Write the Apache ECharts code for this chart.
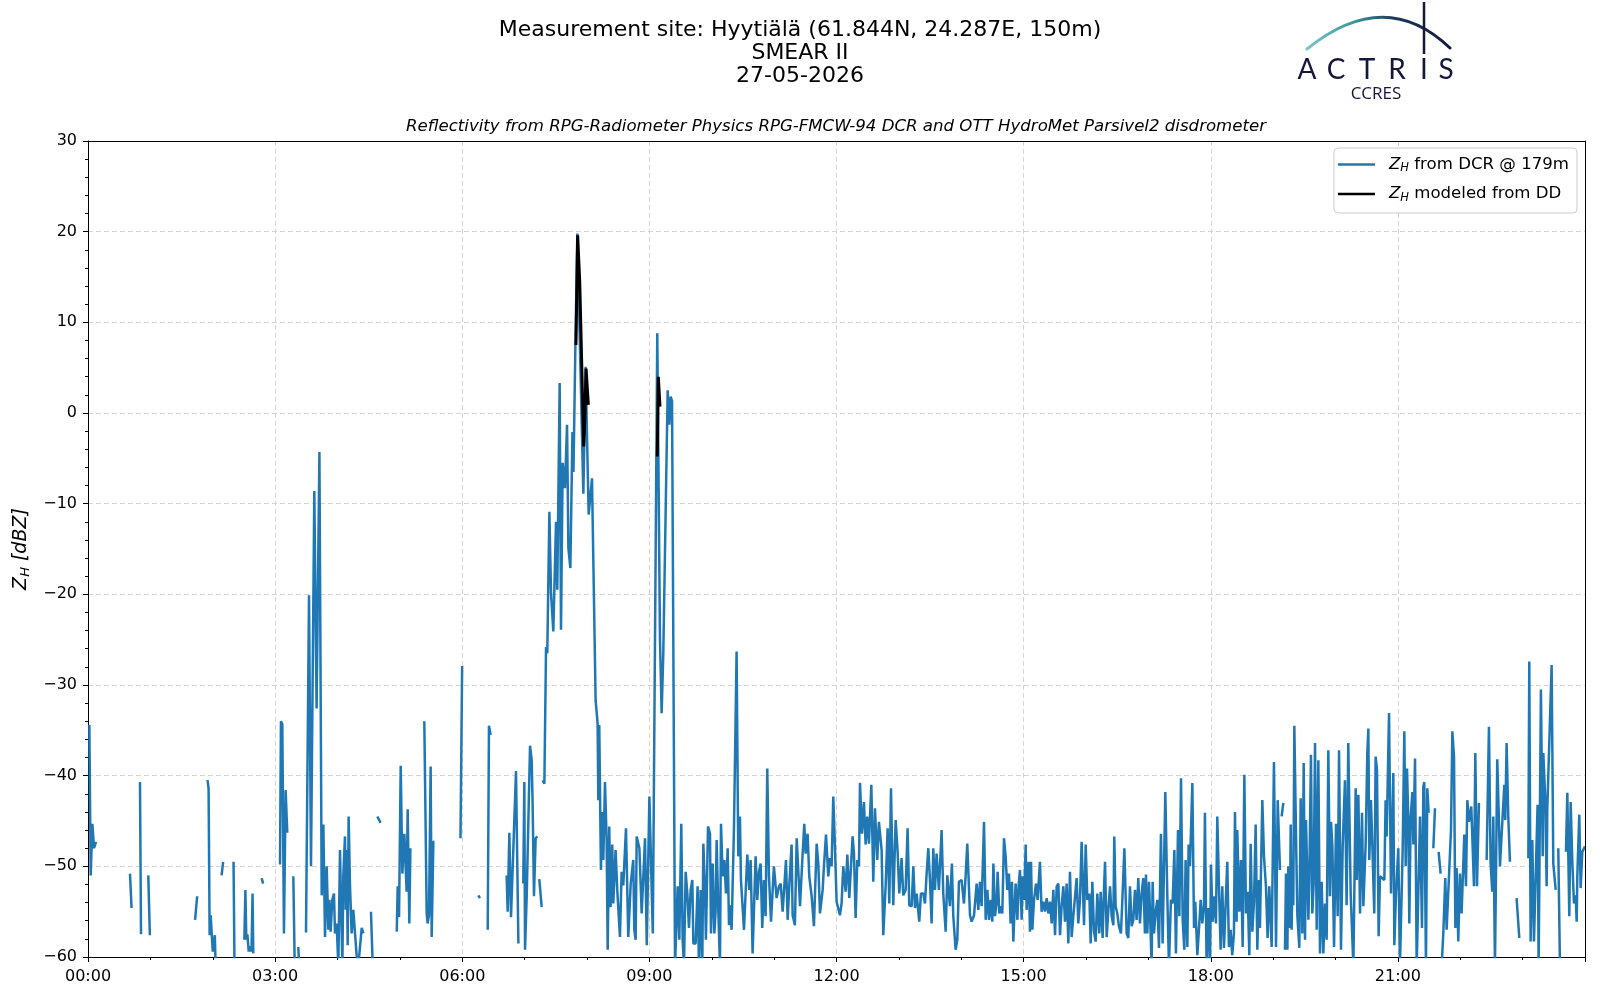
<!DOCTYPE html>
<html><head><meta charset="utf-8">
<script src="https://cdn.jsdelivr.net/npm/echarts@6/dist/echarts.min.js"></script>
<style>html,body{margin:0;padding:0;background:#fff}#c{width:1600px;height:1000px}</style>
</head><body><div id="c"></div>
<script>
// time in minutes after 00:00, reflectivity in dBZ; null = no data
const dcrNight = [
[1.3,-34.4],[2.6,-51.0],[4.2,-45.3],[5.8,-48.0],[7.7,-47.3],[10,null],
[40.4,-50.8],[41.9,-54.6],[45,null],
[50.0,-40.7],[51.0,-57.5],[54,null],
[58.0,-51.0],[59.5,-57.6],[62,null],
[103.0,-55.9],[105.0,-53.3],[108,null],
[115,-40.5],[116,-41.4],[117,-57.6],[118,-55.4],[120,-59.4],[122,-57.6],[123,-62],[125,null],
[128.5,-51.0],[130,-49.5],[134,null],
[140,-49.5],[141,-62],[145,null],
[150.4,-58.1],[151.4,-52.6],[152.3,-58.1],[153.3,-57.5],[154.6,-59.4],[155.6,-58.8],[157.3,-59.4],[158.3,-53.0],[159.0,-59.6],[162,null],
[167,-51.3],[168.5,-51.9],[172,null],
[184.7,-49.8],[185.6,-34.0],[186.9,-34.3],[188.5,-57.4],[190.1,-41.6],[191.7,-46.3],[194,null],
[197.5,-51.1],[199,-62],[200.5,null],
[202.3,-58.9],[203.5,-62],[205,null],
[209.7,-57.3],[212.6,-20.1],[214.5,-50.0],[217.7,-8.6],[219.9,-32.6],[222.6,-4.3],[224.8,-53.2],[226.4,-45.4],[228.0,-57.8],[229.6,-50.0],[231.2,-57.0],[232.2,-53.7],[233.4,-57.2],[235.0,-53.7],[236.6,-53.0],[237.6,-57.4],[239.2,-56.3],[240.8,-61],[242.4,-48.2],[243.4,-48.0],[244.7,-61],[245.6,-51.0],[247.2,-46.7],[247.9,-54.8],[248.8,-48.2],[249.8,-58.7],[250.7,-44.5],[252.0,-52.0],[253.6,-57.4],[255.2,-54.8],[256.9,-54.8],[258.4,-59.8],[260.0,-61],[263.3,-56.8],[264.9,-57.4],[268,null],
[272.2,-55.0],[273.9,-61],[276,null],
[278.3,-44.5],[281.5,-45.2],[290,null],
[297.0,-57.2],[297.9,-52.2],[299.2,-55.6],[300.8,-38.9],[302.4,-50.8],[304.3,-46.4],[305.6,-46.2],[306.5,-52.8],[307.5,-43.7],[308.5,-43.8],[309.1,-56.3],[310.1,-48.0],[312,null],
[323.5,-34.0],[325.8,-55.2],[326.7,-56.3],[328.0,-55.4],[329.6,-39.0],[330.6,-57.8],[332.2,-47.3],[333.2,-47.3],[335,null],
[358.3,-46.9],[359.9,-27.9],[362,null],
[375.5,-53.2],[377.0,-53.5],[380,null],
[384.5,-57.0],[385.7,-34.5],[387.3,-35.5],[390,null],
[402.7,-51.0],[403.7,-55.0],[405.3,-46.3],[406.3,-46.4],[406.9,-55.6],[411.7,-39.5],[414.0,-58.5],[416,null],
[418.7,-51.9],[419.7,-40.7],[420.4,-59.2],[422.0,-53.3],[425.2,-36.7],[426.8,-38.3],[427.7,-43.2],[429.0,-53.3],[430.6,-46.9],[432.2,-46.7],[433.2,null],
[434.1,-51.4],[436.4,-54.5],[437,null]
];
const dcrRain = [
[437.4,-40.5],[439.0,-40.9],[440.6,-25.8],[441.8,-26.5],[443.8,-10.9],[445.4,-19.9],[447.6,-24.1],[450.2,-12.0],[451.4,-19.5],[453.0,-19.3],[453.7,3.3],[455.0,-23.9],[456.6,-5.5],[458.8,-8.3],[460.8,-1.3],[462.1,-14.9],[464.0,-17.1],[466.0,-2.1],[467.0,-6.5],[468.8,7.3],[470.7,19.8],[471.4,19.6],[476.5,-8.9],[478.7,5.1],[479.7,-0.8],[481.6,-11.2],[484.8,-7.2],[488.3,-31.7],[490.2,-34.2],[490.9,-42.7],[491.8,-34.4],[493.4,-50.4],[494.7,-44.0],[495.7,-49.3],[497.3,-40.7],[498.9,-47.1],[499.9,-59.2],[501.4,-45.6],[502.7,-54.5],[504.3,-47.6],[505.3,-54.1],[507.5,-48.2],[509.1,-52.6],[511.7,-57.8],[513.3,-50.6],[514.9,-52.1],[517.5,-45.8],[519.7,-57.8],[522.0,-52.0],[524.5,-49.3],[525.5,-57.0],[526.8,-58.1],[527.8,-46.7],[530.4,-48.0],[532.6,-55.2],[535.8,-46.9],[537.5,-58.7],[540.0,-42.3],[543.3,-57.4],[547.6,8.8],[550.2,-25.0],[551.8,-33.1],[553.4,-26.5],[557.6,2.5],[559.2,-1.3],[560.5,1.8],[561.8,1.3],[564.7,-61],
[567.2,-52.2],[568.8,-58.1],[570.7,-45.3],[572.0,-58.1],[573.3,-61],[574.9,-50.6],[576.5,-53.0],[578.1,-56.8],[579.7,-52.6],[581.3,-51.5],[582.3,-58.5],[584.5,-58.5],[586.4,-52.2],[587.7,-61],[589.3,-52.6],[590.9,-61],[591.9,-47.5],[593.5,-52.6],[594.4,-58.1],[596.4,-45.6],[598.3,-46.4],[599.3,-57.4]
];
const dcrDay = [
[600.9,-49.7],[602.5,-57.4],[603.7,-55.0],[604.7,-47.1],[606.3,-54.8],[607.9,-61],[608.9,-45.3],[610.5,-51.1],[612.1,-49.3],[613.7,-53.0],[615.3,-48.0],[616.6,-56.5],[617.5,-54.3],[619.1,-57.0],[621.4,-45.6],[623.9,-26.3],[625.5,-48.9],[627.1,-44.5],[628.1,-51.5],[631.0,-57.0],[634.2,-48.7],[636.1,-52.6],[637.4,-49.3],[639.3,-59.6],[642.2,-48.9],[643.8,-53.7],[645.4,-50.6],[647.0,-49.7],[648.6,-56.8],[650.2,-51.5],[651.8,-55.5],[653.4,-39.2],[655.0,-51.0],[657.0,-56.1],[659.8,-50.0],[662.4,-53.5],[664.7,-52.2],[666.3,-51.9],[668.2,-55.0],[669.8,-52.2],[671.4,-49.3],[673.0,-55.9],[674.6,-52.1],[676.8,-47.6],[677.8,-55.4],[680.0,-56.5],[681.7,-46.9],[683.3,-50.6],[684.9,-54.4],[687.1,-49.3],[689.0,-45.3],[690.3,-48.6],[692.2,-46.4],[693.8,-51.1],[696.1,-53.3],[698.3,-56.6],[700.9,-47.5],[702.5,-49.7],[704.1,-55.2],[706.7,-52.6],[707.9,-50.0],[709.9,-46.5],[712.1,-51.1],[713.7,-49.1],[715.3,-50.0],[716.9,-42.3],[718.5,-47.8],[720.1,-53.9],[721.7,-53.9],[723.3,-55.4],[724.9,-54.1],[726.5,-50.0],[728.8,-52.8],[730.4,-48.7],[732.3,-53.5],[733.6,-53.7],[735.5,-46.7],[736.8,-48.6],[738.4,-55.7],[740.0,-49.3],[741.6,-50.0],[742.6,-40.8],[744.5,-46.4],[746.4,-42.9],[748.0,-47.6],[749.6,-44.5],[751.2,-47.5],[753.5,-41.0],[755.4,-51.7],[757.0,-43.6],[759.2,-49.3],[760.8,-45.1],[763.4,-48.2],[765.0,-57.6],[767.3,-52.1],[769.2,-45.8],[770.8,-54.1],[772.4,-41.4],[774.6,-54.3],[776.9,-44.9],[778.8,-48.4],[780.4,-53.0],[782.6,-49.1],[784.2,-53.2],[786.5,-52.6],[788.4,-45.8],[790.0,-54.3],[792.3,-54.4],[793.9,-50.0],[795.5,-54.6],[797.1,-53.0],[799.6,-56.1],[801.2,-53.0],[803.5,-53.0],[805.1,-54.1],[806.7,-50.8],[808.3,-48.0],[809.9,-51.5],[811.5,-56.3],[813.1,-48.0],[814.7,-52.6],[816.3,-48.6],[818.5,-52.6],[821.1,-46.0],[822.7,-53.0],[825.0,-57.2],[826.6,-51.0],[829.1,-54.4],[831.0,-49.7],[832.3,-55.4],[834.6,-59.2],[836.2,-58.1],[837.8,-51.7],[840.3,-51.5],[842.6,-54.1],[844.2,-51.1],[845.8,-47.5],[848.4,-55.4],
[850.0,-56.1],[852.3,-55.4],[854.8,-51.9],[856.4,-54.8],[858.0,-51.7],[859.6,-54.4],[861.9,-45.1],[863.5,-55.9],[865.1,-52.6],[866.7,-55.9],[868.3,-53.7],[869.9,-56.1],[870.9,-49.7],[872.5,-55.5],[874.1,-53.9],[875.0,-50.6],[876.6,-55.2],[877.9,-54.4],[879.5,-55.2],[881.1,-46.9],[882.7,-48.9],[884.3,-52.6],[885.9,-50.8],[887.5,-56.3],[888.8,-51.7],[890.1,-58.3],[891.1,-55.2],[892.3,-51.9],[894.0,-55.9],[895.2,-52.1],[896.5,-50.4],[898.1,-55.9],[899.1,-51.1],[900.4,-53.7],[902.0,-47.6],[902.9,-54.8],[904.8,-49.5],[906.1,-57.2],[907.1,-49.5],[908.4,-57.0],[910.0,-53.7],[911.9,-51.9],[913.5,-53.7],[915.7,-49.5],[917.3,-55.0],[919.0,-53.9],[920.6,-55.0],[922.2,-53.5],[923.8,-55.2],[925.4,-53.9],[927.0,-56.3],[928.6,-52.6],[930.2,-57.6],[931.8,-52.2],[933.4,-51.9],[935.0,-57.6],[936.6,-54.3],[938.2,-52.2],[939.8,-56.1],[941.4,-51.9],[943.0,-58.5],[944.6,-50.6],[946.2,-57.8],[947.8,-55.5],[949.4,-55.7],[951.0,-51.3],[952.6,-56.3],[954.2,-53.7],[955.8,-47.3],[958.1,-56.5],[959.7,-47.6],[961.3,-53.7],[963.2,-53.0],[964.5,-58.5],[966.1,-51.7],[967.7,-57.2],[969.3,-58.3],[970.9,-53.0],[972.8,-57.4],[974.1,-52.8],[976.0,-57.9],[977.3,-52.6],[978.3,-49.5],[979.9,-57.8],[981.5,-54.8],[983.1,-52.2],[984.7,-55.5],[986.3,-56.5],[987.2,-46.7],[988.5,-54.4],[990.1,-55.2],[991.7,-56.6],[993.6,-57.4],[994.9,-53.9],[996.9,-48.0],[999.1,-57.4],[1000.7,-57.9],[1002.3,-52.2],[1003.9,-56.6],[1005.5,-55.9],[1007.1,-52.6],[1008.7,-55.9],[1010.3,-51.3],[1011.9,-56.3],[1013.5,-53.0],[1015.1,-51.3],[1016.7,-57.4],[1017.7,-50.9],[1019.0,-57.4],[1020.6,-51.7],[1022.2,-57.4],[1023.1,-61],[1024.1,-51.7],[1025.4,-57.4],[1027.0,-55.0],[1028.6,-53.7],[1030.2,-59.0],[1032.1,-46.4],[1033.7,-58.5],[1035.0,-58.5],[1036.3,-41.8],[1038.2,-53.2],[1039.8,-61],[1041.7,-53.7],[1043.3,-54.1],[1045.0,-48.2],[1046.5,-59.6],[1048.5,-46.0],[1049.8,-55.5],[1051.4,-40.3],[1053.0,-55.9],[1054.6,-59.2],[1055.8,-49.3],[1057.5,-58.9],[1058.7,-47.6],[1060.0,-50.0],[1062.3,-40.8],[1063.9,-56.8],[1065.1,-53.9],[1067.1,-59.8],[1069.0,-56.3],[1070.3,-53.7],[1071.9,-56.3],[1073.5,-54.3],[1074.4,-44.1],[1076.0,-61],[1077.6,-54.6],[1079.3,-61],[1080.2,-49.8],[1081.8,-56.1],[1083.4,-53.3],[1085.0,-56.3],[1086.3,-44.5],[1087.9,-52.2],[1089.5,-59.2],[1091.1,-52.2],[1092.7,-59.0],[1094.3,-59.2],[1095.9,-49.5],[1097.5,-58.9],[1099.1,-57.0],[1100.7,-59.8],[1102.3,-57.4],[1103.3,-44.0],[1104.9,-56.1],[1105.5,-46.0],[1107.5,-55.0],[1109.1,-49.3],[1110.7,-58.9],[1112.3,-39.9],[1113.9,-55.2],[1115.5,-52.8],[1117.1,-59.8],[1118.4,-47.5],[1120.0,-57.2],[1121.6,-53.9],[1123.2,-45.4],[1124.8,-59.2],[1126.4,-51.5],[1127.3,-56.8],[1129.6,-42.7],[1131.2,-48.9],[1133.1,-52.2],[1134.7,-57.9],[1136.3,-52.2]
];
const dcrEvening = [
[1138.6,-58.9],[1140.8,-38.5],[1142.8,-58.9],[1144.4,-42.7],[1146.6,-50.4],[1147.5,null],
[1148.2,-44.5],[1149.8,-43.0],[1150.5,null],
[1151.4,-59.2],[1152.4,-50.8],[1153.7,-59.2],[1154.6,-50.0],[1156.2,-56.8],[1156.9,-45.4],[1157.8,-57.0],[1158.8,-50.0],[1159.4,-54.3],[1160.4,-34.5],[1162.0,-46.4],[1163.3,-55.4],[1165.2,-59.0],[1166.5,-42.5],[1168.1,-57.4],[1169.4,-38.6],[1170.7,-58.1],[1171.6,-44.9],[1173.9,-55.9],[1174.8,-51.5],[1176.4,-37.7],[1177.7,-55.2],[1179.0,-51.9],[1180.3,-36.4],[1181.9,-57.0],[1183.5,-38.3],[1185.1,-59.6],[1186.7,-51.7],[1188.3,-59.6],[1189.9,-54.1],[1191.5,-58.1],[1193.1,-37.2],[1194.7,-53.3],[1195.7,-45.1],[1197.0,-47.8],[1198.6,-58.9],[1200.5,-45.3],[1202.1,-55.5],[1203.4,-37.2],[1205.3,-59.2],[1206.9,-47.8],[1209.1,-40.5],[1210.7,-54.3],[1212.3,-36.4],[1214.6,-53.0],[1217.2,-61],[1219.4,-41.4],[1220.4,-51.5],[1222.0,-42.1],[1223.6,-55.2],[1225.5,-44.1],[1226.8,-54.4],[1229.0,-47.6],[1230.6,-37.5],[1231.6,-34.8],[1232.5,-49.3],[1234.1,-42.7],[1235.7,-48.7],[1237.3,-55.2],[1238.6,-37.9],[1239.9,-39.4],[1241.5,-57.7],[1242.8,-51.1],[1247.0,-51.5],[1248.2,-42.7],[1249.2,-46.7],[1251.5,-33.1],[1253.4,-53.0],[1255.6,-39.7],[1256.6,-58.7],[1258.2,-53.0],[1260.4,-48.0],[1262.0,-61],[1264.6,-48.2],[1266.2,-35.1],[1267.5,-50.0],[1268.8,-39.2],[1270.0,-44.7],[1271.0,-56.3],[1272.3,-44.7],[1273.9,-41.8],[1274.9,-47.6],[1276.5,-38.1],[1278.1,-61],[1281.3,-44.5],[1283.2,-56.8],[1284.5,-41.2],[1285.4,-40.7],[1287.0,-61],[1288.3,-41.4],[1289.6,-44.1],[1292,null],
[1294.1,-48.0],[1295.7,-43.6],[1297,null],
[1299.2,-48.4],[1301.1,-50.8],[1301.6,null],
[1302.1,-61],[1303.7,-57.4],[1305.6,-51.3],[1306.9,-57.0],[1311.1,-46.0],[1312.4,-35.1],[1314.0,-37.9],[1315.3,-56.8],[1316.5,-50.2],[1318.1,-58.3],[1319.7,-50.8],[1321.3,-55.2],[1323.9,-46.5],[1325.5,-52.2],[1326.8,-42.7],[1328.4,-45.1],[1330.6,-43.4],[1333.2,-52.2],[1334.5,-37.5],[1336.1,-52.2],[1338.0,-43.0],[1340,null],
[1345.4,-49.3],[1347.6,-34.6],[1349.2,-49.7],[1350.8,-52.8],[1351.8,-44.5],[1353.4,-61],[1355.6,-38.2],[1357.3,-45.4],[1358.2,-50.0],[1362.4,-41.0],[1363.3,-44.9],[1364.6,-36.4],[1366.2,-44.5],[1367.8,-49.5],[1370,null],
[1374.2,-53.5],[1376.8,-57.9],[1378,null],
[1385.5,-49.1],[1386.4,-27.4],[1387.7,-58.3],[1389.3,-47.1],[1390.9,-58.3],[1392.5,-58.3],[1394.4,-43.2],[1395.4,-61],[1397.6,-30.5],[1399.3,-48.9],[1399.9,-37.5],[1401.8,-42.7],[1403.1,-52.2],[1403.7,-43.8],[1407.9,-27.8],[1409.5,-49.7],[1411.8,-52.6],[1413,null],
[1414.3,-48.0],[1415.9,-61],[1418,null],
[1421.7,-48.4],[1423.0,-41.9],[1424.9,-55.5],[1426.2,-42.9],[1427.8,-49.5],[1429.4,-54.1],[1431.0,-53.2],[1432.0,-56.1],[1432.6,-51.1],[1434.5,-44.3],[1435.8,-52.4],[1437.4,-48.4],[1440.0,-47.8]
];
const ddZh = [
[469.4,7.5],[471.0,19.6],[473.0,14.5],[475.0,5.0],[476.8,-3.7],[478.0,-0.4],[479.1,4.9],[480.5,4.7],[481.3,0.9],[500,null],
[547.6,-4.8],[548.6,4.0],[550.2,0.7]
];
const xTicks = [0,180,360,540,720,900,1080,1260];
const yTicks = [-60,-50,-40,-30,-20,-10,0,10,20,30];

const prep = arr => arr.map(p => [p[0], p[1] === null ? '-' : p[1]]);
const dcrAll = prep([].concat(dcrNight, dcrRain, dcrDay, dcrEvening));
const pad = n => String(n).padStart(2,'0');
const FONT = 'DejaVu Sans';
const navy = '#14163a';
const frameAxis = {axisLine:{show:true, onZero:false, lineStyle:{color:'#000', width:1}}, axisTick:{show:false}, axisLabel:{show:false}, splitLine:{show:false}, z:10};

const chart = echarts.init(document.getElementById('c'), null, {renderer:'canvas'});
const option = {
  animation:false,
  backgroundColor:'#ffffff',
  textStyle:{fontFamily:FONT},
  title:{
    text:'Measurement site: Hyytiälä (61.844N, 24.287E, 150m)\nSMEAR II\n27-05-2026',
    left:'center', top:19, padding:0,
    textStyle:{fontSize:22, fontWeight:'normal', color:'#000', lineHeight:23, fontFamily:FONT}
  },
  legend:{
    orient:'vertical', right:23, top:148,
    data:['dcr','dd'],
    icon:'rect', itemWidth:37, itemHeight:2.5, itemGap:11,
    padding:[8,8,9,4],
    borderColor:'#cccccc', borderWidth:1, borderRadius:4,
    backgroundColor:'rgba(255,255,255,0.85)',
    formatter: n => n === 'dcr' ? '{z|Z}{s|H}{t| from DCR @ 179m}' : '{z|Z}{s|H}{t| modeled from DD}',
    textStyle:{fontSize:16.6, color:'#000', fontFamily:FONT,
      rich:{ z:{fontSize:16.6, fontStyle:'italic', fontFamily:FONT, padding:[0,0,0,9]},
             s:{fontSize:11.5, fontStyle:'italic', fontFamily:FONT, padding:[8,0,0,0]},
             t:{fontSize:16.6, fontFamily:FONT} }}
  },
  grid:{left:88, right:15, top:141, bottom:43, show:false},
  xAxis:[{
    type:'value', min:0, max:1440, interval:180,
    axisLine:{show:true, onZero:false, lineStyle:{color:'#000', width:1}},
    axisTick:{show:true, length:5, lineStyle:{color:'#000', width:1}},
    minorTick:{show:true, splitNumber:3, length:3, lineStyle:{color:'#000', width:1}},
    axisLabel:{color:'#000', fontSize:16, margin:12, fontFamily:FONT,
      formatter: v => xTicks.indexOf(v) < 0 ? '' : pad(Math.floor(v/60)) + ':' + pad(v%60)},
    splitLine:{show:true, lineStyle:{color:'#d4d4d4', width:1, type:[5,3]}}
  }, Object.assign({type:'value', position:'top', min:0, max:1440}, frameAxis)],
  yAxis:[{
    type:'value', min:-60, max:30, interval:10,
    axisLine:{show:true, onZero:false, lineStyle:{color:'#000', width:1}},
    axisTick:{show:true, length:5, lineStyle:{color:'#000', width:1}},
    minorTick:{show:true, splitNumber:5, length:3, lineStyle:{color:'#000', width:1}},
    axisLabel:{color:'#000', fontSize:16, margin:11, fontFamily:FONT,
      formatter: v => yTicks.indexOf(v) < 0 ? '' : (v < 0 ? '\u2212' + (-v) : String(v))},
    splitLine:{show:true, lineStyle:{color:'#d4d4d4', width:1, type:[5,3]}},
    name:'{z|Z}{s|H}{z| [dBZ]}', nameLocation:'middle', nameRotate:90, nameGap:53,
    nameTextStyle:{fontSize:19, color:'#000', fontFamily:FONT,
      rich:{ z:{fontSize:19, fontStyle:'italic', fontFamily:FONT},
             s:{fontSize:13, fontStyle:'italic', fontFamily:FONT, padding:[9,0,0,0]} }}
  }, Object.assign({type:'value', position:'right', min:-60, max:30}, frameAxis)],
  series:[
    {name:'dcr', type:'line', xAxisIndex:0, yAxisIndex:0, data:dcrAll, showSymbol:false, symbol:'none', connectNulls:false, clip:true,
     color:'#1f77b4', lineStyle:{color:'#1f77b4', width:2.5}, itemStyle:{color:'#1f77b4'}, z:2},
    {name:'dd', type:'line', xAxisIndex:0, yAxisIndex:0, data:prep(ddZh), showSymbol:false, symbol:'none', connectNulls:false, clip:true,
     color:'#000000', lineStyle:{color:'#000000', width:3}, itemStyle:{color:'#000000'}, z:3}
  ],
  graphic:[
    {type:'text', x:836, y:127, style:{text:'Reflectivity from RPG-Radiometer Physics RPG-FMCW-94 DCR and OTT HydroMet Parsivel2 disdrometer',
      font:'italic 16.6px "DejaVu Sans"', fill:'#000', align:'center', verticalAlign:'middle', textAlign:'center', textVerticalAlign:'middle'}},
    {type:'bezierCurve', shape:{x1:1307, y1:49, cpx1:1385, cpy1:-14, x2:1450, y2:48},
      style:{fill:null, lineWidth:3, lineCap:'round',
        stroke:{type:'linear', x:0, y:0, x2:1, y2:0, colorStops:[
          {offset:0, color:'#7fc8c6'},{offset:0.35, color:'#3a959c'},{offset:0.6, color:'#1d3a5c'},{offset:1, color:navy}]}}},
    {type:'line', shape:{x1:1424, y1:2, x2:1424, y2:54}, style:{stroke:navy, lineWidth:2.5}},
    {type:'text', x:1307, y:70, style:{text:'A', font:'28px Lato', fill:navy, align:'center', verticalAlign:'middle'}},
    {type:'text', x:1336, y:70, style:{text:'C', font:'28px Lato', fill:navy, align:'center', verticalAlign:'middle'}},
    {type:'text', x:1367, y:70, style:{text:'T', font:'28px Lato', fill:navy, align:'center', verticalAlign:'middle'}},
    {type:'text', x:1397, y:70, style:{text:'R', font:'28px Lato', fill:navy, align:'center', verticalAlign:'middle'}},
    {type:'text', x:1424, y:70, style:{text:'I', font:'28px Lato', fill:navy, align:'center', verticalAlign:'middle'}},
    {type:'text', x:1446, y:70, style:{text:'S', font:'28px Lato', fill:navy, align:'center', verticalAlign:'middle'}},
    {type:'text', x:1376, y:94, style:{text:'CCRES', font:'17px "Open Sans"', fill:navy, align:'center', verticalAlign:'middle'}}
  ]
};
chart.setOption(option);
</script></body></html>
